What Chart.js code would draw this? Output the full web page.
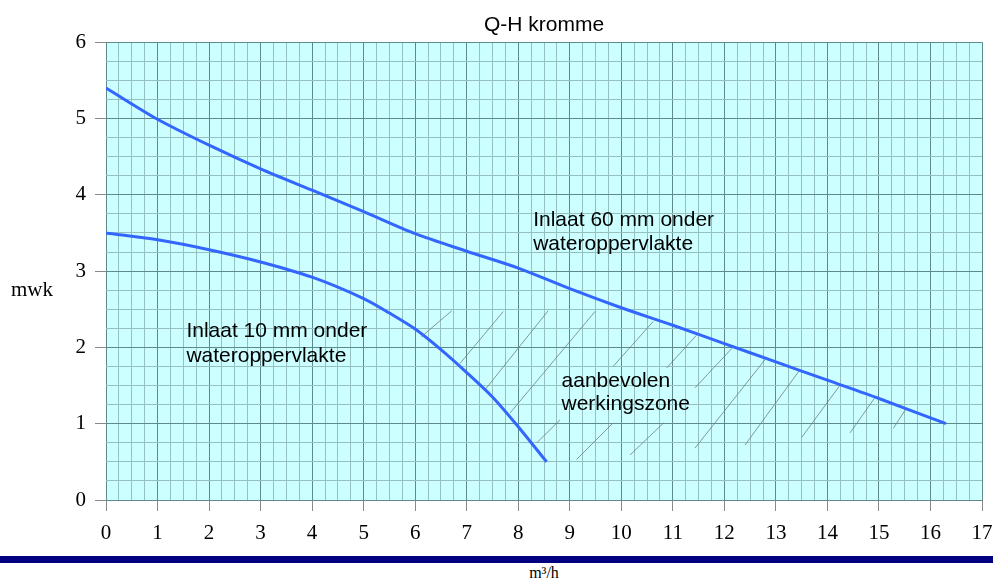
<!DOCTYPE html>
<html>
<head>
<meta charset="utf-8">
<script src="https://cdn.jsdelivr.net/npm/chart.js@4/dist/chart.umd.min.js"></script>
<style>
  html, body { margin: 0; padding: 0; background: #ffffff; }
  #wrap { position: relative; width: 993px; height: 582px; overflow: hidden; }
  #plot { position: absolute; left: 0; top: 0; width: 993px; height: 556px; }
  #bar { position: absolute; left: 0; top: 556px; width: 993px; height: 7px; background: #000080; }
  #xname { position: absolute; left: 0; width: 1088px; top: 563px; text-align: center;
           font-family: "Liberation Serif", "DejaVu Serif", serif; font-size: 16px; color: #000; line-height: 19px; }
</style>
</head>
<body>
<div id="wrap">
  <div id="plot"><canvas id="c" width="993" height="556"></canvas></div>
  <div id="bar"></div>
  <div id="xname">m³/h</div>
</div>
<script>
// Pump curve: flow (m³/h) against head (mwk)
const flowUpper = [0, 1, 2, 3, 4, 5, 6, 7, 8, 9, 10, 11, 12, 13, 14, 15, 16.3];
const headUpper = [5.40, 4.99, 4.65, 4.34, 4.06, 3.78, 3.49, 3.26, 3.04, 2.77, 2.52, 2.29, 2.05, 1.81, 1.57, 1.33, 1.00];

const flowLower = [0, 1, 2, 3, 4, 5, 5.5, 6, 6.5, 7, 7.5, 8, 8.55];
const headLower = [3.50, 3.41, 3.28, 3.12, 2.92, 2.64, 2.45, 2.24, 1.97, 1.67, 1.35, 0.96, 0.50];

// Hatching of the recommended operating zone (segment start / end)
const hatchX1 = [6.12, 6.87, 7.35, 7.84, 8.36, 9.13, 9.84, 10.17, 10.88, 11.43, 11.43, 12.40, 13.50, 14.44, 15.28];
const hatchY1 = [2.14, 1.79, 1.44, 1.14, 0.75, 0.53, 1.75, 0.59, 1.73, 1.47, 0.68, 0.72, 0.82, 0.88, 0.94];
const hatchX2 = [6.71, 7.71, 8.58, 9.49, 8.81, 9.84, 10.62, 10.82, 11.46, 12.15, 12.79, 13.46, 14.25, 14.93, 15.51];
const hatchY2 = [2.48, 2.47, 2.48, 2.47, 1.05, 1.01, 2.34, 1.01, 2.16, 1.99, 1.84, 1.70, 1.51, 1.35, 1.18];

// Text notes inside the plot (left edge in m³/h, baseline in mwk)
const noteText = ["Inlaat 60 mm onder", "wateroppervlakte",
                  "Inlaat 10 mm onder", "wateroppervlakte",
                  "aanbevolen", "werkingszone"];
const noteX = [8.29, 8.29, 1.56, 1.56, 8.84, 8.84];
const noteY = [3.59, 3.27, 2.13, 1.81, 1.48, 1.18];

const xMin = 0, xMax = 17, yMin = 0, yMax = 6, minorStep = 0.25;
const chartTitle = "Q-H kromme";
const yName = "mwk";

const SERIF = '"Liberation Serif", "DejaVu Serif", serif';
const SANS = '"Liberation Sans", Arial, sans-serif';

const toPoints = (xs, ys) => xs.map((x, i) => ({ x: x, y: ys[i] }));

const curveStyle = {
  borderColor: '#3366ff', borderWidth: 3, pointRadius: 0,
  tension: 0.3, fill: false
};

const datasets = [
  Object.assign({ label: 'Inlaat 60 mm', data: toPoints(flowUpper, headUpper) }, curveStyle),
  Object.assign({ label: 'Inlaat 10 mm', data: toPoints(flowLower, headLower) }, curveStyle)
];
hatchX1.forEach((x, i) => {
  datasets.push({
    label: 'zone' + i,
    data: [{ x: x, y: hatchY1[i] }, { x: hatchX2[i], y: hatchY2[i] }],
    borderColor: '#6f7f7f', borderWidth: 0.8, pointRadius: 0, tension: 0, fill: false
  });
});

const isMajor = v => Math.abs(v - Math.round(v)) < 1e-6;

const plotBackground = {
  id: 'plotBackground',
  beforeDraw(chart) {
    const a = chart.chartArea, ctx = chart.ctx;
    ctx.save();
    ctx.fillStyle = '#ccffff';
    ctx.fillRect(a.left, a.top, a.right - a.left, a.bottom - a.top);
    ctx.restore();
  }
};

const notes = {
  id: 'notes',
  afterDatasetsDraw(chart) {
    const ctx = chart.ctx, xs = chart.scales.x, ys = chart.scales.y;
    ctx.save();
    ctx.fillStyle = '#000';
    ctx.font = '21px ' + SANS;
    ctx.textAlign = 'left';
    ctx.textBaseline = 'alphabetic';
    noteText.forEach((t, i) => {
      ctx.fillText(t, xs.getPixelForValue(noteX[i]), ys.getPixelForValue(noteY[i]));
    });
    // vertical axis name, written horizontally left of the tick labels
    ctx.font = '21px ' + SERIF;
    ctx.textAlign = 'center';
    const a = chart.chartArea;
    ctx.fillText(yName, a.left - 74, (a.top + a.bottom) / 2 + 25);
    ctx.restore();
  }
};

new Chart(document.getElementById('c'), {
  type: 'line',
  data: { datasets: datasets },
  plugins: [plotBackground, notes],
  options: {
    responsive: false,
    animation: false,
    events: [],
    layout: { padding: { left: 0, right: 0, top: 0, bottom: 0 } },
    plugins: {
      legend: { display: false },
      tooltip: { enabled: false },
      title: {
        display: true, text: chartTitle, fullSize: false, color: '#000',
        font: { family: SANS, size: 21, weight: 'normal' },
        padding: { top: 13, bottom: 4 }
      }
    },
    scales: {
      x: {
        type: 'linear', min: xMin, max: xMax,
        afterFit(s) { s.height = 56; s.paddingRight = 11; s.paddingLeft = 0; },
        border: { display: false },
        grid: {
          color: c => isMajor(c.tick.value) ? '#5f8a8a' : '#94c0c0',
          tickColor: c => isMajor(c.tick.value) ? '#8a8a8a' : 'rgba(0,0,0,0)',
          tickLength: 11, lineWidth: 1
        },
        ticks: {
          stepSize: minorStep, autoSkip: false, maxRotation: 0, minRotation: 0,
          padding: 10, color: '#000',
          font: { family: SERIF, size: 21 },
          callback: v => isMajor(v) ? String(Math.round(v)) : ''
        }
      },
      y: {
        type: 'linear', min: yMin, max: yMax,
        afterFit(s) { s.width = 106; },
        border: { display: false },
        grid: {
          color: c => isMajor(c.tick.value) ? '#5f8a8a' : '#94c0c0',
          tickColor: c => isMajor(c.tick.value) ? '#8a8a8a' : 'rgba(0,0,0,0)',
          tickLength: 11, lineWidth: 1
        },
        ticks: {
          stepSize: minorStep, autoSkip: false, padding: 9, color: '#000',
          font: { family: SERIF, size: 21 },
          callback: v => isMajor(v) ? String(Math.round(v)) : ''
        }
      }
    }
  }
});
</script>
</body>
</html>
